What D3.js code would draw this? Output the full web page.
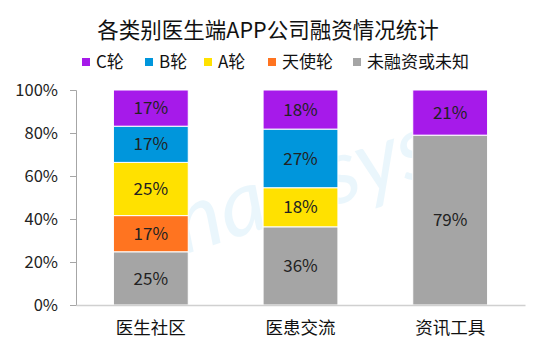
<!DOCTYPE html>
<html>
<head>
<meta charset="utf-8">
<script src="https://cdn.jsdelivr.net/npm/d3@7"></script>
<style>
  body { margin: 0; background: #fff; }
  svg text { font-family: "Noto Sans CJK SC", "Noto Sans", sans-serif; }
</style>
</head>
<body>
<div id="chart"></div>
<script>
// chart data
const categories = ["医生社区", "医患交流", "资讯工具"];
const seriesNames = ["未融资或未知", "天使轮", "A轮", "B轮", "C轮"];
const seriesColors = ["#a5a5a5", "#ff7420", "#ffe100", "#0096dc", "#a61aea"];
const unfunded = [25, 36, 79];
const angel = [17, 0, 0];
const roundA = [25, 18, 0];
const roundB = [17, 27, 0];
const roundC = [17, 18, 21];
const yTicks = [0, 0.2, 0.4, 0.6, 0.8, 1];
const legendOrder = ["C轮", "B轮", "A轮", "天使轮", "未融资或未知"];

const width = 554, height = 353;
const svg = d3.select("#chart").append("svg")
    .attr("width", width).attr("height", height);

// build rows for the stack
const seriesValues = [unfunded, angel, roundA, roundB, roundC];
const rows = categories.map((c, i) => {
  const row = { cat: c };
  seriesNames.forEach((s, j) => row[s] = seriesValues[j][i]);
  return row;
});
const stacked = d3.stack().keys(seriesNames).offset(d3.stackOffsetExpand)(rows);

const x = d3.scaleBand().domain(categories).range([76, 525])
    .paddingInner(0.5).paddingOuter(0.25);
const y = d3.scaleLinear().domain([0, 1]).range([305, 90]);
const color = d3.scaleOrdinal().domain(seriesNames).range(seriesColors);

// faint watermark
svg.append("text")
    .attr("transform", "translate(290,220) rotate(-18)")
    .attr("text-anchor", "middle")
    .style("font-family", "Lato, sans-serif")
    .style("font-style", "italic")
    .style("font-size", "90px")
    .style("fill", "#0096dc")
    .style("opacity", 0.08)
    .text("analysys");

// title
svg.append("text")
    .attr("x", 268).attr("y", 38)
    .attr("text-anchor", "middle")
    .style("font-size", "21.5px")
    .style("fill", "#111")
    .text("各类别医生端APP公司融资情况统计");

// legend
const legendX = [82, 145, 204, 268, 353];
const legend = svg.append("g");
legendOrder.forEach((name, i) => {
  const g = legend.append("g").attr("transform", `translate(${legendX[i]},62)`);
  g.append("rect").attr("x", 0).attr("y", -4).attr("width", 8).attr("height", 8)
      .attr("fill", color(name));
  g.append("text").attr("x", 14).attr("y", 0).attr("dy", "0.36em")
      .style("font-size", "17px").style("fill", "#111").text(name);
});

// bars
const layers = svg.append("g").selectAll("g").data(stacked).join("g")
    .attr("fill", d => color(d.key));
layers.selectAll("rect").data(d => d.filter(p => p.data[d.key] > 0)).join("rect")
    .attr("x", d => x(d.data.cat))
    .attr("width", x.bandwidth())
    .attr("y", d => y(d[1]))
    .attr("height", d => y(d[0]) - y(d[1]))
    .attr("stroke", "#fff")
    .attr("stroke-width", 1);

// data labels
stacked.forEach(layer => {
  layer.forEach(p => {
    const v = p.data[layer.key];
    if (v <= 0) return;
    svg.append("text")
        .attr("x", x(p.data.cat) + x.bandwidth() / 2)
        .attr("y", (y(p[0]) + y(p[1])) / 2)
        .attr("dy", "0.36em")
        .attr("text-anchor", "middle")
        .style("font-size", "17px")
        .style("fill", "#222")
        .text(v + "%");
  });
});

// y axis
const yAxis = svg.append("g").attr("transform", "translate(76,0)")
    .call(d3.axisLeft(y).tickValues(yTicks).tickFormat(d3.format(".0%")).tickSize(6).tickPadding(12));
yAxis.select(".domain").attr("stroke", "#a6a6a6");
yAxis.selectAll(".tick line").attr("stroke", "#a6a6a6");
yAxis.selectAll(".tick text").style("font-size", "16.5px").style("fill", "#222")
    .style("font-family", "\"Noto Sans CJK SC\", sans-serif");

// x axis
const xAxis = svg.append("g").attr("transform", "translate(0,305)")
    .call(d3.axisBottom(x).tickSize(0).tickPadding(17));
xAxis.select(".domain").attr("stroke", "#d0d0d0").attr("stroke-width", 1.5);
xAxis.selectAll(".tick text").style("font-size", "17.5px").style("fill", "#111")
    .style("font-family", "\"Noto Sans CJK SC\", sans-serif");
</script>
</body>
</html>
